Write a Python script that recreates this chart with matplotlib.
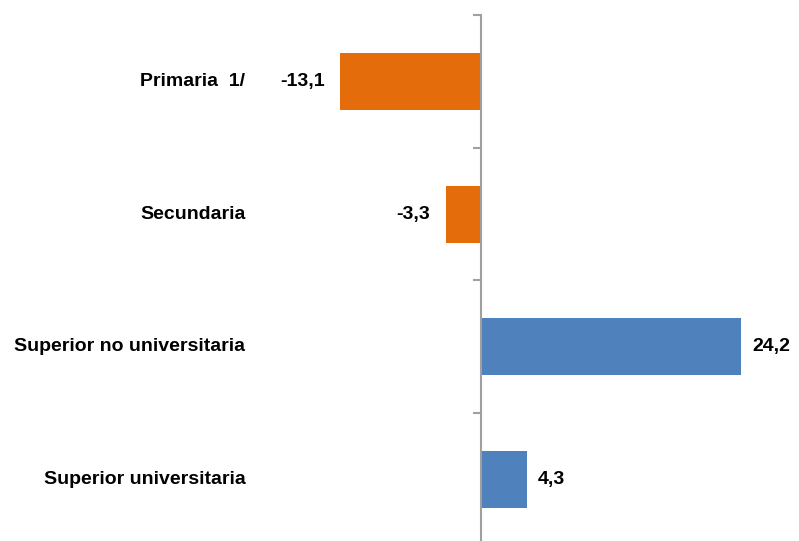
import matplotlib.pyplot as plt
import numpy as np

categorias = ['Primaria  1/', 'Secundaria', 'Superior no universitaria', 'Superior universitaria']
valores = [-13.1, -3.3, 24.2, 4.3]
etiquetas = ['-13,1', '-3,3', '24,2', '4,3']
colores = ['#E46C0A', '#E46C0A', '#4F81BD', '#4F81BD']

plt.rcParams['font.family'] = ['Liberation Sans Narrow', 'Liberation Sans', 'DejaVu Sans']

fig = plt.figure(figsize=(7.99, 5.41), dpi=100)
ax = fig.add_axes([0.3327, -0.0092, 0.6464, 0.9815])

y = np.arange(len(categorias))
ax.barh(y, valores, height=0.43, color=colores)
ax.set_ylim(len(categorias) - 0.5, -0.5)
ax.set_xlim(-20, 28)

# ticks en los limites de categoria
ax.set_yticks(np.arange(-0.5, len(categorias), 1))
ax.set_yticklabels([])
ax.tick_params(axis='y', length=6, width=1.5, color='#A0A0A0', direction='out')

# etiquetas de categoria
for yi, c in zip(y, categorias):
    ax.text(-21.9, yi, c, ha='right', va='center', fontsize=14, fontweight='bold')

ax.set_xticks([])
for s in ['top', 'right', 'bottom']:
    ax.spines[s].set_visible(False)
ax.spines['left'].set_position(('data', 0))
ax.spines['left'].set_color('#A0A0A0')
ax.spines['left'].set_linewidth(1.5)

for yi, v, t in zip(y, valores, etiquetas):
    if v < 0:
        ax.text(v - 1.4, yi, t, ha='right', va='center', fontsize=14, fontweight='bold')
    else:
        ax.text(v + 1.0, yi, t, ha='left', va='center', fontsize=14, fontweight='bold')

fig.savefig('out.png', dpi=100)
